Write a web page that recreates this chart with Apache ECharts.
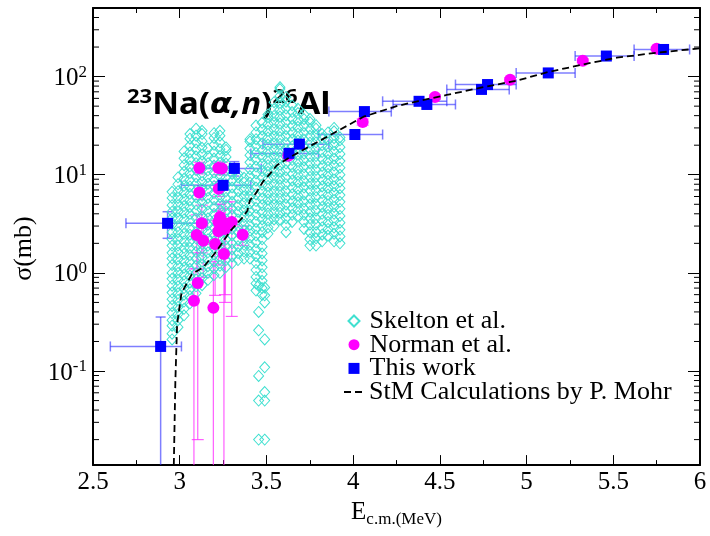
<!DOCTYPE html>
<html>
<head>
<meta charset="utf-8">
<script src="https://cdn.jsdelivr.net/npm/echarts@6/dist/echarts.min.js"></script>
<style>
  html, body { margin: 0; padding: 0; background: #fff; }
  #chart { width: 710px; height: 536px; }
</style>
</head>
<body>
<div id="chart"></div>
<script>
  // Skelton et al. - each column is one energy, values read bottom to top (mb)
  const skeltonE = [2.956, 2.990, 3.025, 3.059, 3.094, 3.129, 3.163, 3.198, 3.232, 3.267,
    3.302, 3.336, 3.371, 3.405, 3.440, 3.455, 3.475, 3.490, 3.509, 3.544, 3.578, 3.613,
    3.648, 3.682, 3.717, 3.751, 3.786, 3.821, 3.855, 3.890, 3.924]
  const skeltonS = [
    [0.21, 0.24, 0.29, 0.33, 0.39, 0.46, 0.54, 0.63, 0.74, 0.87, 1.0, 1.2, 1.4, 1.6, 1.9, 2.2, 2.6, 3.1, 3.6, 4.2, 4.9, 5.8, 6.7],
    [0.28, 0.33, 0.38, 0.45, 0.53, 0.62, 0.73, 0.85, 1.0, 1.17, 1.38, 1.6, 1.9, 2.2, 2.6, 3.0, 3.6, 4.2, 4.9, 5.8, 6.8, 8.0, 9.4],
    [0.37, 0.43, 0.51, 0.6, 0.7, 0.82, 0.96, 1.13, 1.33, 1.56, 1.8, 2.1, 2.5, 2.9, 3.5, 4.1, 4.8, 5.6, 6.6, 7.7, 9.1, 10.7, 12.5, 14.7, 17.3],
    [0.49, 0.58, 0.68, 0.8, 0.94, 1.1, 1.3, 1.52, 1.8, 2.1, 2.45, 2.9, 3.4, 4.0, 4.7, 5.5, 6.4, 7.6, 8.9, 10.4, 12.2, 14.4, 16.9, 19.8, 23.3, 26],
    [0.62, 0.73, 0.86, 1.0, 1.18, 1.39, 1.63, 1.9, 2.25, 2.6, 3.1, 3.6, 4.3, 5.0, 5.9, 6.9, 8.1, 9.5, 11.2, 13.1, 15.4, 18.1, 21.3, 25, 29.5],
    [0.75, 0.88, 1.03, 1.21, 1.42, 1.67, 1.96, 2.3, 2.7, 3.2, 3.7, 4.4, 5.2, 6.1, 7.1, 8.4, 9.8, 11.6, 13.6, 16, 18.8, 22, 26, 28],
    [0.85, 1.0, 1.17, 1.38, 1.62, 1.9, 2.2, 2.6, 3.1, 3.6, 4.2, 5.0, 5.8, 6.9, 8.1, 9.5, 11.1, 13.1, 15.4, 18.5],
    [0.95, 1.12, 1.31, 1.54, 1.81, 2.1, 2.5, 2.9, 3.4, 4.0, 4.7, 5.6, 6.5, 7.7, 9.0, 10.6, 12.4, 14.6, 17.2, 20.2, 23.7, 26.5],
    [1.0, 1.18, 1.38, 1.62, 1.91, 2.25, 2.6, 3.1, 3.6, 4.3, 5.0, 5.9, 6.9, 8.1, 9.5, 11.2, 13.2, 15.5, 18.2, 21.4, 25, 28],
    [1.15, 1.35, 1.59, 1.87, 2.2, 2.6, 3.0, 3.5, 4.2, 4.9, 5.8, 6.8, 8.0, 9.4, 11, 13, 15.2, 17.9, 19],
    [1.25, 1.47, 1.73, 2.0, 2.4, 2.8, 3.3, 3.9, 4.5, 5.3, 6.3, 7.4, 8.7, 10.2, 11.5],
    [1.35, 1.59, 1.87, 2.2, 2.6, 3.0, 3.5, 4.2, 4.9, 5.8, 6.8, 8.0, 9.4, 10.2],
    [1.4, 1.65, 1.93, 2.3, 2.7, 3.1, 3.7, 4.3, 5.1, 6.0, 7.0, 8.3, 9.3],
    [1.4, 1.65, 1.93, 2.3, 2.7, 3.1, 3.7, 4.3, 5.1, 6.0, 7.0, 8.3, 9.7, 11.4, 13.4, 15.8, 18.5, 21.8, 23],
    [0.66, 0.78, 0.91, 1.07, 1.26, 1.48, 1.74, 2.05, 2.4, 2.8, 3.3, 3.9, 4.6, 5.4, 6.3, 7.4, 8.7, 10.3, 12.1, 14.2, 16.7, 19.6, 23, 27, 31.7],
    [0.02, 0.05, 0.089, 0.26, 0.4, 0.74],
    [0.6, 0.7, 0.83, 0.97, 1.14, 1.34, 1.58, 1.85, 2.2, 2.6, 3.0, 3.5, 4.1, 4.9, 5.7, 6.7, 7.9, 9.3, 10.9, 12.8, 15.1, 17.7, 20.8, 24.5, 28.8, 33.8],
    [0.02, 0.05, 0.061, 0.109, 0.21, 0.5, 0.59, 0.71],
    [2.5, 2.9, 3.45, 4.05, 4.8, 5.6, 6.6, 7.7, 9.1, 10.7, 12.5, 14.7, 17.3, 20.3, 23.9, 28, 33, 38.7, 41],
    [3.0, 3.5, 4.1, 4.9, 5.7, 6.7, 7.9, 9.3, 10.9, 12.8, 15.1, 17.7, 20.8, 24.5, 28.8, 33.8, 39.7, 46.7, 54.8],
    [3.5, 4.1, 4.8, 5.7, 6.7, 7.8, 9.2, 10.8, 12.7, 14.9, 17.5, 20.6, 24.2, 28.4, 33.4, 39.2, 46.1, 54.1, 63.6, 74.7, 78],
    [2.6, 3.05, 3.6, 4.2, 4.95, 5.8, 6.8, 8.0, 9.4, 11.1, 13, 15.3, 18, 21.1, 24.8, 29.1, 34.2, 40.2, 47.2, 55.5, 62],
    [3.3, 3.9, 4.55, 5.35, 6.3, 7.4, 8.7, 10.2, 12, 14.1, 16.5, 19.4, 22.8, 26.8, 31.5, 37, 43.5, 51],
    [3.8, 4.45, 5.25, 6.15, 7.2, 8.5, 10, 11.7, 13.8, 16.2, 19, 22.3, 26.2, 30.8, 36.2, 42.5, 47],
    [2.8, 3.3, 3.9, 4.5, 5.3, 6.3, 7.4, 8.6, 10.1, 11.9, 14, 16.4, 19.3, 22.7, 26.6, 31.3, 36.8, 41],
    [1.9, 2.2, 2.6, 3.1, 3.6, 4.2, 5.0, 5.8, 6.9, 8.1, 9.5, 11.1, 13.1, 15.4, 18.1, 21.2, 24.9, 29.3, 34.4, 37],
    [1.9, 2.25, 2.6, 3.1, 3.6, 4.3, 5.0, 5.9, 6.9, 8.1, 9.5, 11.2, 13.2, 15.5, 18.2, 21.4, 25.1, 29.5, 32],
    [2.1, 2.45, 2.9, 3.4, 4.0, 4.7, 5.5, 6.5, 7.6, 8.9, 10.5, 12.3, 14.5, 17, 20, 23.5, 26],
    [2.4, 2.8, 3.3, 3.9, 4.6, 5.4, 6.3, 7.4, 8.7, 10.2, 12, 14.1, 16.6, 19.5, 22.9, 27],
    [2.1, 2.5, 2.9, 3.4, 4.0, 4.7, 5.5, 6.5, 7.6, 8.9, 10.5, 12.4, 14.5, 17.1, 20.1, 23.6, 27.7, 30],
    [2.0, 2.35, 2.75, 3.25, 3.8, 4.5, 5.3, 6.2, 7.3, 8.5, 10, 11.8, 13.8, 16.3, 19.1, 22.4, 24]
  ]

  // Norman et al.
  const normanE = [3.113, 3.223, 3.243, 3.113, 3.225, 3.127, 3.098, 3.136, 3.223, 3.261, 3.30, 3.223, 3.261,
    3.204, 3.255, 3.363, 3.104, 3.082, 3.194, 3.232, 3.626, 4.055, 4.472, 4.905, 5.324, 5.75]
  const normanS = [11.7, 11.7, 11.6, 6.6, 7.2, 3.2, 2.43, 2.12, 3.3, 3.2, 3.3, 2.65, 2.8,
    1.97, 1.56, 2.45, 0.79, 0.52, 0.44, 3.7, 15.6, 34.4, 62, 93, 145, 192]
  const normanSlo = [10.2, 10.0, 10.0, 5.6, 6.0, 1.6, 1.1, 0.9, 1.9, 0.6, 0.36, 1.2, 0.5,
    0.59, 0.001, 1.9, 0.02, 0.001, 0.001, 2.5, 14.5, 32, 59, 89, 139, 185]
  const normanShi = [13.4, 13.5, 13.4, 7.8, 8.5, 4.9, 3.9, 3.5, 5.0, 5.3, 5.3, 4.3, 4.5,
    3.4, 3.0, 3.0, 1.6, 1.1, 1.3, 5.0, 16.8, 37, 65, 97, 151, 199]

  // This work
  const workE = [2.89, 2.93, 3.25, 3.315, 3.63, 3.69, 4.01, 4.065, 4.38, 4.425, 4.74, 4.775, 5.125, 5.46, 5.79]
  const workS = [0.178, 3.2, 7.8, 11.6, 16.5, 20.5, 25.7, 44, 56, 52, 74, 83, 109, 162, 189]
  const workElo = [2.60, 2.69, 3.01, 3.12, 3.41, 3.48, 3.80, 3.86, 4.17, 4.23, 4.54, 4.59, 4.94, 5.28, 5.62]
  const workEhi = [3.01, 3.16, 3.41, 3.47, 3.80, 3.86, 4.17, 4.22, 4.54, 4.59, 4.90, 4.94, 5.28, 5.62, 5.94]
  const workSlo = [0.001, 2.25, 7.1, 9.7, 15.5, 19.2, 24.3, 41.5, 53.5, 49.5, 71, 80, 105, 157, 183]
  const workShi = [0.355, 4.2, 8.6, 13.6, 17.5, 21.8, 27.1, 46.5, 58.5, 54.5, 77, 86, 113, 167, 195]

  // StM calculation (P. Mohr)
  const stmE = [2.966, 2.975, 2.985, 3.01, 3.07, 3.136, 3.213, 3.29, 3.367, 3.39, 3.405, 3.44, 3.48, 3.52,
    3.56, 3.636, 3.77, 3.905, 4.06, 4.25, 4.37, 4.54, 4.75, 4.944, 5.13, 5.328, 5.52, 5.75, 6.0]
  const stmS = [0.011, 0.08, 0.3, 0.62, 0.97, 1.14, 1.67, 2.65, 3.75, 4.3, 5.5, 6.5, 8.5, 10.2,
    12.5, 15.1, 20.4, 27.6, 39, 50, 56, 65, 78, 91, 112, 133, 156, 175, 194]

  // minor ticks of the log axis
  const yMinorTicks = [0.02, 0.03, 0.04, 0.05, 0.06, 0.07, 0.08, 0.09,
    0.2, 0.3, 0.4, 0.5, 0.6, 0.7, 0.8, 0.9, 2, 3, 4, 5, 6, 7, 8, 9,
    20, 30, 40, 50, 60, 70, 80, 90, 200, 300, 400]

  const serif = 'Liberation Serif'
  let chart = echarts.init(document.getElementById('chart'))

  let skeltonData = []
  skeltonE.forEach((e, i) => skeltonS[i].forEach(s => skeltonData.push([e, s])))

  function workErr(params, api) {
    let p = api.coord([api.value(0), api.value(1)])
    let xl = api.coord([api.value(2), api.value(1)])
    let xh = api.coord([api.value(3), api.value(1)])
    let yl = api.coord([api.value(0), api.value(4)])
    let yh = api.coord([api.value(0), api.value(5)])
    let st = { stroke: 'rgba(40,40,255,0.6)', lineWidth: 1.5 }
    let ln = (x1, y1, x2, y2) => ({ type: 'line', shape: { x1, y1, x2, y2 }, style: st })
    return {
      type: 'group',
      children: [
        ln(xl[0], p[1], xh[0], p[1]),
        ln(xl[0], p[1] - 5, xl[0], p[1] + 5),
        ln(xh[0], p[1] - 5, xh[0], p[1] + 5),
        ln(p[0], yl[1], p[0], yh[1]),
        ln(p[0] - 5, yl[1], p[0] + 5, yl[1]),
        ln(p[0] - 5, yh[1], p[0] + 5, yh[1])
      ]
    }
  }

  function normanErr(params, api) {
    let yl = api.coord([api.value(0), api.value(2)])
    let yh = api.coord([api.value(0), api.value(3)])
    let st = { stroke: 'rgba(255,40,255,0.75)', lineWidth: 1.2 }
    let ln = (x1, y1, x2, y2) => ({ type: 'line', shape: { x1, y1, x2, y2 }, style: st })
    return {
      type: 'group',
      children: [
        ln(yl[0], yl[1], yh[0], yh[1]),
        ln(yl[0] - 6, yl[1], yl[0] + 6, yl[1]),
        ln(yh[0] - 6, yh[1], yh[0] + 6, yh[1])
      ]
    }
  }

  function minorTicks(params, api) {
    let p = api.coord([2.5, api.value(1)])
    let cs = params.coordSys
    let st = { stroke: '#000', lineWidth: 1 }
    return {
      type: 'group',
      children: [
        { type: 'line', shape: { x1: cs.x, y1: p[1], x2: cs.x + 6, y2: p[1] }, style: st },
        { type: 'line', shape: { x1: cs.x + cs.width, y1: p[1], x2: cs.x + cs.width - 6, y2: p[1] }, style: st }
      ]
    }
  }

  let xBase = {
    type: 'value', min: 2.5, max: 6, interval: 0.5,
    axisLine: { lineStyle: { color: '#000', width: 2 } },
    axisTick: { inside: true, length: 10, lineStyle: { color: '#000', width: 1 } },
    minorTick: { show: true, splitNumber: 2, length: 5, lineStyle: { color: '#000', width: 1 } },
    splitLine: { show: false }
  }
  let yBase = {
    type: 'log', logBase: 10, min: 0.011, max: 500,
    axisLine: { lineStyle: { color: '#000', width: 2 } },
    axisTick: { inside: true, length: 12, lineStyle: { color: '#000', width: 1 } },
    minorTick: { show: false },
    splitLine: { show: false }
  }
  let legendText = { fontFamily: serif, fontSize: 26, color: '#000' }

  chart.setOption({
    animation: false,
    grid: { left: 93, right: 10, top: 8, bottom: 63 },
    legend: [{
      orient: 'vertical', left: 342.5, top: 303,
      itemWidth: 11, itemHeight: 11, itemGap: -2.3,
      selectedMode: false,
      textStyle: Object.assign({ padding: [0, 0, 0, 5] }, legendText),
      data: ['Skelton et al.', 'Norman et al.', 'This work']
    }, {
      orient: 'vertical', left: 338, top: 374,
      itemWidth: 20, itemHeight: 11,
      selectedMode: false,
      textStyle: legendText,
      data: [{ name: 'StM Calculations by P. Mohr', itemStyle: { color: 'rgba(0,0,0,0)', borderWidth: 0 } }]
    }],
    graphic: [{
      type: 'text', left: 127, top: 84, scaleX: 1.1,
      style: {
        text: '{sup|23}{b|Na(}{a|α}{i|,n}{b|)}{sup|26}{b|Al}',
        fill: '#000',
        rich: {
          b: { fontFamily: 'Noto Sans', fontWeight: 'bold', fontSize: 30, lineHeight: 30, padding: [6, 0, 0, 0] },
          a: { fontFamily: 'DejaVu Sans', fontWeight: 'bold', fontStyle: 'italic', fontSize: 29, lineHeight: 30, padding: [6, 0, 0, 0] },
          i: { fontFamily: 'Noto Sans', fontWeight: 'bold', fontStyle: 'italic', fontSize: 30, lineHeight: 30, padding: [6, 0, 0, 0] },
          sup: { fontFamily: 'Noto Sans', fontWeight: 'bold', fontSize: 20, lineHeight: 20, verticalAlign: 'top' }
        }
      }
    }],
    xAxis: [
      Object.assign({}, xBase, {
        position: 'bottom',
        axisLabel: { fontFamily: serif, fontSize: 25, color: '#000', margin: 5 },
        name: '{e|E}{s|c.m.(MeV)}', nameLocation: 'middle', nameGap: 26,
        nameTextStyle: {
          rich: {
            e: { fontFamily: serif, fontSize: 25, lineHeight: 25, color: '#000', padding: [0, 0, 6, 0] },
            s: { fontFamily: serif, fontSize: 17, lineHeight: 17, color: '#000', verticalAlign: 'bottom' }
          }
        }
      }),
      Object.assign({}, xBase, { position: 'top', axisLabel: { show: false } })
    ],
    yAxis: [
      Object.assign({}, yBase, {
        position: 'left',
        axisLabel: {
          margin: 6,
          formatter: function (v) {
            let l = Math.log10(v)
            let e = Math.round(l)
            if (Math.abs(l - e) > 1e-6) return ''
            return '{b|10}{s|' + e + '}'
          },
          rich: {
            b: { fontFamily: serif, fontSize: 25, lineHeight: 25, color: '#000', padding: [4, 0, 0, 0] },
            s: { fontFamily: serif, fontSize: 17, lineHeight: 17, color: '#000', verticalAlign: 'top' }
          }
        },
        name: 'σ(mb)', nameLocation: 'middle', nameGap: 47, nameRotate: 90,
        nameTextStyle: { fontFamily: serif, fontSize: 26, color: '#000', padding: [0, 24, 0, 0] }
      }),
      Object.assign({}, yBase, { position: 'right', axisLabel: { show: false } })
    ],
    series: [
      {
        name: 'Skelton et al.', type: 'scatter', data: skeltonData,
        symbol: 'diamond', symbolSize: [10, 11],
        itemStyle: { color: 'rgba(255,255,255,0)', borderColor: '#40e0d0', borderWidth: 1, opacity: 1 },
        emphasis: { disabled: true }, silent: true
      },
      {
        name: 'normanErr', type: 'custom', renderItem: normanErr, clip: true, silent: true,
        data: normanE.map((e, i) => [e, normanS[i], normanSlo[i], normanShi[i]])
      },
      {
        name: 'Norman et al.', type: 'scatter', symbol: 'circle', symbolSize: 12,
        data: normanE.map((e, i) => [e, normanS[i]]),
        itemStyle: { color: '#ff00ff', opacity: 1 }, emphasis: { disabled: true }, silent: true
      },
      {
        name: 'workErr', type: 'custom', renderItem: workErr, clip: true, silent: true,
        data: workE.map((e, i) => [e, workS[i], workElo[i], workEhi[i], workSlo[i], workShi[i]])
      },
      {
        name: 'This work', type: 'scatter', symbol: 'rect', symbolSize: 11,
        data: workE.map((e, i) => [e, workS[i]]),
        itemStyle: { color: '#0000ff', opacity: 1 }, emphasis: { disabled: true }, silent: true
      },
      {
        name: 'StM Calculations by P. Mohr', type: 'line', symbol: 'none', smooth: false,
        data: stmE.map((e, i) => [e, stmS[i]]),
        lineStyle: { color: '#000', width: 1.8, type: [7, 4] },
        itemStyle: { color: '#000' }, silent: true
      },
      {
        name: 'minorTicks', type: 'custom', renderItem: minorTicks, silent: true,
        data: yMinorTicks.map(v => [2.5, v])
      }
    ]
  })
</script>
</body>
</html>
